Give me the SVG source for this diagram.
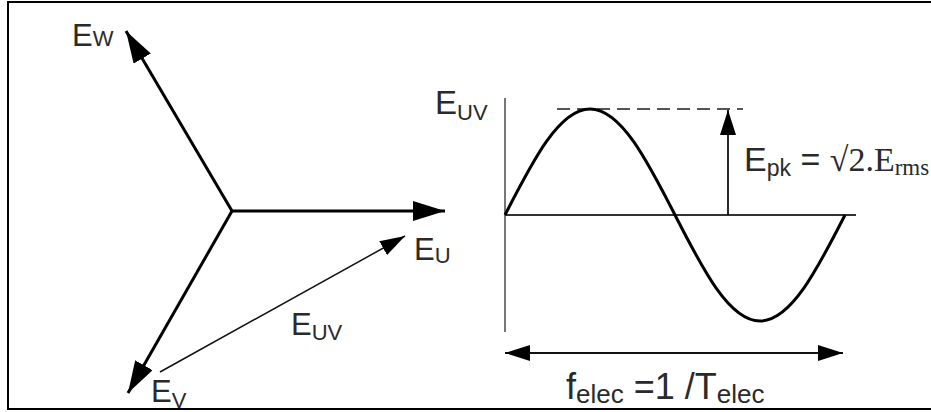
<svg xmlns="http://www.w3.org/2000/svg" width="931" height="412" viewBox="0 0 931 412">
<style>
.t{font-family:"Liberation Sans",Arial,sans-serif;fill:#2a2a2a;font-size:31px}
.s{font-size:22px}
.r{font-size:33px}
.rs{font-size:22px}
.p{font-size:34px}
.ps{font-size:23px}
.f{font-size:36px}
.fs{font-size:26px}
.serif{font-family:"Liberation Serif","Times New Roman",serif}
.thick{stroke:#000;stroke-width:3;fill:none}
.thin{stroke:#111;stroke-width:1.5;fill:none}
</style>
<defs>
<marker id="ah" viewBox="0 0 32 20" refX="32" refY="10" markerWidth="32" markerHeight="20" markerUnits="userSpaceOnUse" orient="auto">
<path d="M0,0 L32,10 L0,20 Z" fill="#000"/>
</marker>
<marker id="as" viewBox="0 0 25 16" refX="25" refY="8" markerWidth="25" markerHeight="16" markerUnits="userSpaceOnUse" orient="auto-start-reverse">
<path d="M0,0 L25,8 L0,16 Z" fill="#000"/>
</marker>
</defs>
<rect x="8" y="2" width="930" height="407" fill="#fff" stroke="#000" stroke-width="2"/>
<g id="connectors">
<line id="eu" class="thick" x1="232" y1="211" x2="445" y2="211" marker-end="url(#ah)"/>
<line id="ew" class="thick" x1="232" y1="211" x2="126" y2="31" marker-end="url(#ah)"/>
<line id="ev" class="thick" x1="232" y1="211" x2="128" y2="393" marker-end="url(#ah)"/>
<line id="euv" class="thin" x1="160" y1="372" x2="405" y2="236" marker-end="url(#as)"/>
</g>
<g id="waveform">
<line x1="505" y1="98" x2="505" y2="332" stroke="#777" stroke-width="2"/>
<line x1="505" y1="215" x2="856" y2="215" stroke="#333" stroke-width="2"/>
<line x1="557" y1="109" x2="743" y2="109" stroke="#555" stroke-width="1.8" stroke-dasharray="13,7"/>
<path class="thick" stroke-width="2.5" d="M505,215 C532.7,160.7 559.2,109 590,109 C620.8,109 647.3,160.7 675,215 C702.7,269.3 729.2,321 760,321 C790.8,321 817.3,269.3 845,215"/>
<line x1="728" y1="215" x2="728" y2="110" stroke="#111" stroke-width="1.8" marker-end="url(#as)"/>
<line x1="505" y1="353" x2="843" y2="353" stroke="#111" stroke-width="1.8" marker-start="url(#as)" marker-end="url(#as)"/>
</g>
<g id="labels">
<text class="t" x="72" y="46">E<tspan class="s" dy="0">W</tspan></text>
<text class="t" x="414" y="260">E<tspan class="s" dy="3">U</tspan></text>
<text class="t" x="291" y="335">E<tspan class="s" dy="5">UV</tspan></text>
<text class="t" x="151" y="402">E<tspan class="s" dy="6">V</tspan></text>
<text class="t r" x="435" y="114">E<tspan class="rs" dy="6">UV</tspan></text>
<text class="t p" x="744" y="171">E<tspan class="ps" dy="5">pk</tspan><tspan dy="-5"> = </tspan><tspan class="serif">√2.E</tspan><tspan class="serif ps" dy="4">rms</tspan></text>
<text class="t f" x="566" y="399">f<tspan class="fs" dy="4">elec</tspan><tspan dy="-4"> =1 /T</tspan><tspan class="fs" dy="4">elec</tspan></text>
</g>
</svg>
